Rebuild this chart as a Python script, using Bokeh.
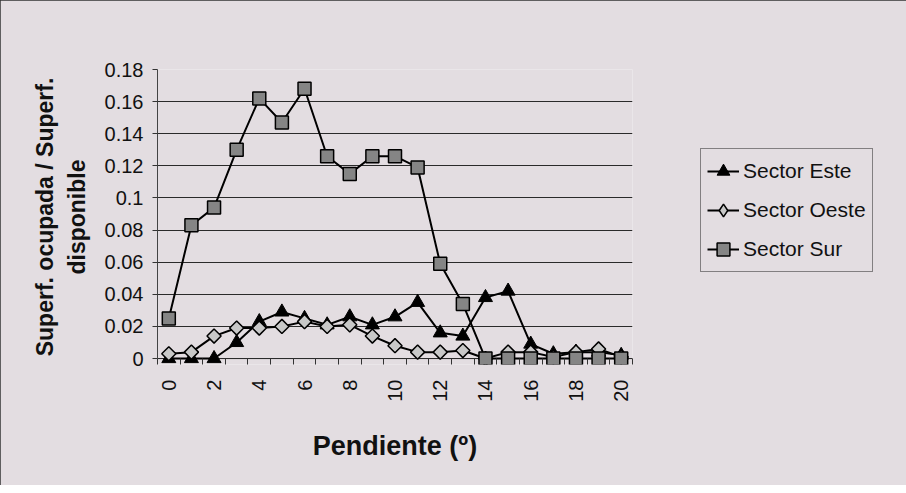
import math
from bokeh.plotting import figure
from bokeh.models import (Range1d, FixedTicker, CustomJSTickFormatter, Legend, LegendItem,
                          Span, ColumnDataSource)
from bokeh.embed import file_html
from bokeh.resources import INLINE

pendiente = list(range(0, 21))
este = [0, 0, 0, 0.010, 0.023, 0.029, 0.025, 0.021, 0.026, 0.021, 0.026,
        0.035, 0.016, 0.014, 0.038, 0.042, 0.009, 0.003, 0.004, 0.004, 0.002]
oeste = [0.003, 0.004, 0.014, 0.019, 0.019, 0.020, 0.023, 0.020, 0.021, 0.014, 0.008,
         0.004, 0.004, 0.005, 0.0, 0.004, 0.004, 0.001, 0.004, 0.006, 0.001]
sur = [0.025, 0.083, 0.094, 0.130, 0.162, 0.147, 0.168, 0.126, 0.115, 0.126, 0.126,
       0.119, 0.059, 0.034, 0, 0, 0, 0, 0, 0, 0]
y_ticks = [0, 0.02, 0.04, 0.06, 0.08, 0.10, 0.12, 0.14, 0.16, 0.18]
x_label_ticks = [0, 2, 4, 6, 8, 10, 12, 14, 16, 18, 20]
series_names = ["Sector Este", "Sector Oeste", "Sector Sur"]
x_title = "Pendiente (º)"
y_title = "Superf. ocupada / Superf.\ndisponible"

BG = "#e3dde1"
FONT = "Liberation Sans"
TXT = "#111111"

p = figure(frame_width=475, frame_height=295, output_backend="svg", toolbar_location=None,
           x_range=Range1d(-0.5, 20.5), y_range=Range1d(-0.0037, 0.18),
           min_border_left=157, min_border_right=266, min_border_top=69, min_border_bottom=121)
p.background_fill_color = BG
p.border_fill_color = BG
p.outline_line_color = None
p.styles = {"outline": "1px solid #333333", "outline-offset": "-1px"}

# x axis (sits at frame bottom, ticks drawn inward up to the zero line)
xa = p.xaxis[0]
xa.ticker = FixedTicker(ticks=x_label_ticks, minor_ticks=[i - 0.5 for i in range(0, 22)])
xa.axis_line_color = None
xa.major_tick_line_color = None
xa.minor_tick_in = 6
xa.minor_tick_out = 0
xa.minor_tick_line_color = "#333333"
xa.major_label_orientation = math.pi / 2
xa.major_label_standoff = 9
xa.major_label_text_font = FONT
xa.major_label_text_font_size = "20px"
xa.major_label_text_color = TXT
xa.axis_label = x_title
xa.axis_label_text_font = FONT
xa.axis_label_text_font_style = "bold"
xa.axis_label_text_font_size = "27px"
xa.axis_label_text_color = TXT
xa.axis_label_standoff = 26

ya = p.yaxis[0]
ya.bounds = (0, 0.18)
ya.ticker = FixedTicker(ticks=y_ticks, minor_ticks=[])
ya.formatter = CustomJSTickFormatter(code="return String(Number(tick.toFixed(2)));")
ya.major_tick_out = 5
ya.major_tick_in = 0
ya.major_tick_line_color = "#333333"
ya.axis_line_color = "#444444"
ya.major_label_standoff = 9
ya.major_label_text_font = FONT
ya.major_label_text_font_size = "20px"
ya.major_label_text_color = TXT
ya.axis_label = y_title
ya.axis_label_text_font = FONT
ya.axis_label_text_font_style = "bold"
ya.axis_label_text_font_size = "23px"
ya.axis_label_text_color = TXT
ya.axis_label_standoff = 12

p.xgrid.grid_line_color = None
p.ygrid.ticker = FixedTicker(ticks=y_ticks[1:-1])
p.ygrid.grid_line_color = "#2a2a2a"
p.ygrid.grid_line_width = 1

p.add_layout(Span(location=0, dimension="width", line_color="#222222", line_width=1,
                  level="underlay"))

src = ColumnDataSource(dict(x=pendiente, este=este, oeste=oeste, sur=sur))

l1 = p.line("x", "este", source=src, line_color="black", line_width=2)
m1 = p.scatter("x", "este", source=src, marker="triangle", size=14,
               fill_color="black", line_color="black")
l2 = p.line("x", "oeste", source=src, line_color="black", line_width=2)
m2 = p.scatter("x", "oeste", source=src, marker="square", angle=math.pi / 4, size=10,
               fill_color="#c8c8c8", line_color="black", line_width=1.5)
l3 = p.line("x", "sur", source=src, line_color="black", line_width=2)
m3 = p.scatter("x", "sur", source=src, marker="square", size=13,
               fill_color="#858585", line_color="black", line_width=1.5)
# legend key for the diamond symbol (draws nothing in the plot itself)
m2_key = p.scatter(x=[float("nan")], y=[float("nan")], marker="diamond", size=15,
                   fill_color="#c8c8c8", line_color="black", line_width=1.5)

legend = Legend(items=[LegendItem(label=series_names[0], renderers=[l1, m1]),
                       LegendItem(label=series_names[1], renderers=[l2, m2_key]),
                       LegendItem(label=series_names[2], renderers=[l3, m3])],
                location=(68, 92))
legend.background_fill_color = BG
legend.background_fill_alpha = 1
legend.border_line_color = "#222222"
legend.border_line_width = 1
legend.label_text_font = FONT
legend.label_text_font_size = "21px"
legend.label_text_color = TXT
legend.glyph_width = 32
legend.glyph_height = 32
legend.label_height = 25
legend.spacing = 7
legend.padding = 6
legend.margin = 0
legend.label_standoff = 4
p.add_layout(legend, "right")

open("out.html", "w").write(file_html(p, INLINE))
